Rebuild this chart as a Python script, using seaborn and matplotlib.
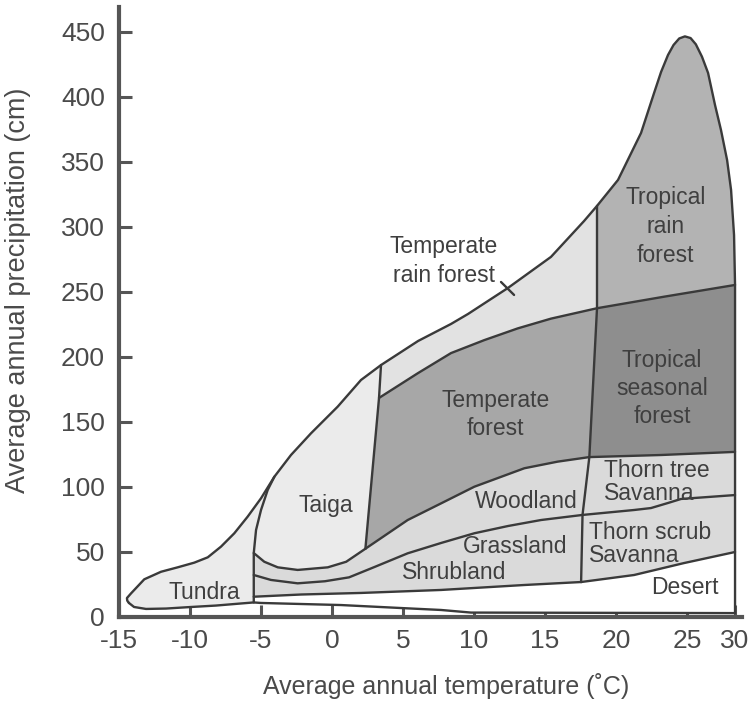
import matplotlib
matplotlib.use("Agg")
import matplotlib.pyplot as plt
from matplotlib import font_manager
import seaborn as sns

# Biome boundaries as (mean annual temperature in degC, mean annual precipitation in cm)
env_tundra = [(-14.30, 10.8), (-14.42, 12.6), (-14.44, 14.6), (-14.15, 18.2), (-13.22, 29.0),
              (-12.04, 34.8), (-10.87, 38.2), (-9.70, 41.8), (-8.75, 45.9), (-7.82, 54.1),
              (-6.88, 64.4), (-5.94, 77.2), (-5.00, 91.3), (-4.06, 107.9)]
env_taiga = [(-4.06, 107.9), (-2.89, 124.6), (-1.48, 141.3), (0.40, 161.8), (2.04, 182.3),
             (3.45, 193.8)]
env_temperate = [(3.45, 193.8), (6.06, 212.3), (8.38, 225.4), (9.58, 233.1), (12.39, 253.1),
                 (15.42, 277.0), (17.75, 304.6), (18.66, 316.2)]
env_tropical = [(18.66, 316.2), (20.14, 336.2), (21.76, 372.3), (22.68, 403.1), (23.17, 419.2),
                (23.66, 432.3), (24.05, 440.0), (24.45, 445.0), (24.85, 446.6), (25.25, 445.3),
                (25.62, 440.5), (26.05, 431.0), (26.48, 418.5), (26.97, 393.8), (27.39, 374.6),
                (27.82, 351.5), (28.10, 328.5), (28.31, 293.8), (28.38, 255.4)]
dry_edge = [(28.38, 255.4), (28.38, 3.0)]
desert_floor = [(-5.51, 11.2), (-5.00, 10.8), (-2.18, 10.0), (0.63, 9.2), (4.86, 6.9),
                (7.68, 5.4), (9.79, 3.4), (28.38, 3.0)]
tundra_floor = [(-14.30, 10.8), (-13.94, 7.7), (-13.10, 6.2), (-11.69, 6.5), (-9.93, 7.7),
                (-8.17, 8.8), (-6.41, 10.4), (-5.51, 11.2)]

taiga_divide = [(-4.06, 107.9), (-4.53, 97.7), (-5.00, 82.3), (-5.35, 66.9), (-5.51, 49.2),
                (-5.51, 11.2)]
temperate_divide = [(3.45, 193.8), (3.31, 168.5), (2.35, 52.5)]
tropical_divide = [(18.66, 316.2), (18.66, 237.5), (18.12, 123.0), (17.64, 78.5), (17.54, 26.9)]

taiga_floor = [(-5.51, 49.2), (-4.77, 42.5), (-3.82, 38.2), (-2.42, 36.2), (-0.30, 38.2),
               (1.00, 42.5), (2.35, 52.5)]
forest_floor = [(2.35, 52.5), (5.33, 74.6), (7.68, 87.4), (10.02, 100.2), (13.54, 114.4),
                (15.89, 119.5), (18.12, 123.0)]
seasonal_floor = [(18.12, 123.0), (23.17, 124.6), (28.38, 127.0)]
woodland_floor = [(-5.51, 32.3), (-4.30, 28.5), (-2.42, 25.9), (-0.50, 27.5), (1.20, 30.5),
                  (3.00, 38.5), (5.33, 49.0), (7.70, 57.0), (10.02, 64.4), (12.40, 70.0),
                  (14.72, 74.6), (17.64, 78.5)]
savanna_split = [(17.64, 78.5), (21.27, 82.3), (22.46, 83.8), (23.66, 87.7), (24.58, 90.8),
                 (28.38, 93.8)]
shrub_floor = [(-5.51, 15.6), (-2.18, 17.3), (2.04, 18.5), (7.68, 20.8), (13.52, 24.6),
               (17.54, 26.9)]
scrub_floor = [(17.54, 26.9), (21.27, 32.3), (24.79, 41.5), (28.38, 50.0)]
rainforest_floor = [(3.31, 168.5), (6.04, 187.5), (8.38, 203.0), (10.73, 213.0), (13.08, 222.0),
                    (15.42, 229.5), (18.66, 237.5)]
tropical_split = [(18.66, 237.5), (23.40, 246.4), (28.38, 255.4)]
rain_forest_mark = [(11.90, 257.7), (12.82, 247.7)]

# Region labels: one entry per text line (text, temperature, precipitation baseline, alignment)
label_lines = [
    ("Tundra", -9.01, 13.6, "center"),
    ("Taiga", -0.46, 81.0, "center"),
    ("Temperate", 7.89, 279.8, "center"),
    ("rain forest", 7.89, 258.0, "center"),
    ("Temperate", 11.52, 161.3, "center"),
    ("forest", 11.52, 140.0, "center"),
    ("Tropical", 23.47, 317.7, "center"),
    ("rain", 23.47, 295.1, "center"),
    ("forest", 23.47, 273.3, "center"),
    ("Tropical", 23.23, 192.0, "center"),
    ("seasonal", 23.23, 170.8, "center"),
    ("forest", 23.23, 149.0, "center"),
    ("Woodland", 13.68, 83.6, "center"),
    ("Grassland", 12.86, 49.0, "center"),
    ("Shrubland", 8.59, 29.0, "center"),
    ("Thorn tree", 19.15, 108.0, "left"),
    ("Savanna", 19.15, 90.0, "left"),
    ("Thorn scrub", 18.12, 59.7, "left"),
    ("Savanna", 18.12, 42.5, "left"),
    ("Desert", 24.88, 17.7, "center"),
]

x_ticks = [-15, -10, -5, 0, 5, 10, 15, 20, 25, 28.38]
x_tick_labels = ["-15", "-10", "-5", "0", "5", "10", "15", "20", "25", "30"]
y_ticks = [0, 50, 100, 150, 200, 250, 300, 350, 400, 450]
y_tick_labels = ["0", "50", "100", "150", "200", "250", "300", "350", "400", "450"]

# ---------------------------------------------------------------------------
sns.set_theme(style="ticks")
installed = {f.name for f in font_manager.fontManager.ttflist}
narrow = "Liberation Sans Narrow" if "Liberation Sans Narrow" in installed else "Liberation Sans"
plt.rcParams["font.family"] = ["Liberation Sans", "DejaVu Sans"]

INK = "#3a3a3a"
AXIS = "#555555"
TEXT = "#3f3f3f"

fig = plt.figure(figsize=(7.54, 7.2), dpi=100)
ax = fig.add_axes([119 / 754, 103 / 720, 623 / 754, 610 / 720])
ax.set_xlim(-15, 28.87)
ax.set_ylim(0, 469.2)


def xs(seq):
    return [p[0] for p in seq]


def ys(seq):
    return [p[1] for p in seq]


def fill(seq, color):
    ax.fill(xs(seq), ys(seq), color=color, linewidth=0, zorder=1)


outline = (env_tundra + env_taiga + env_temperate + env_tropical + dry_edge
           + desert_floor[::-1] + tundra_floor[::-1])
fill(outline, "#ebebeb")
fill(shrub_floor + scrub_floor + [dry_edge[-1]] + desert_floor[::-1], "white")
fill(taiga_floor + forest_floor + seasonal_floor + scrub_floor[::-1] + shrub_floor[::-1], "#dadada")
fill(env_temperate + rainforest_floor[::-1], "#e2e2e2")
fill(rainforest_floor + forest_floor[::-1], "#a7a7a7")
fill(env_tropical + tropical_split[::-1], "#b3b3b3")
fill(tropical_split + seasonal_floor[::-1], "#8e8e8e")

boundaries = [outline + outline[:1], taiga_divide, temperate_divide, tropical_divide,
              taiga_floor, forest_floor, seasonal_floor, woodland_floor, savanna_split,
              shrub_floor, scrub_floor, rainforest_floor, tropical_split, rain_forest_mark]
for seq in boundaries:
    sns.lineplot(x=xs(seq), y=ys(seq), sort=False, estimator=None, color=INK,
                 linewidth=1.7, ax=ax, zorder=3)

for text, t, p, ha in label_lines:
    ax.text(t, p, text, ha=ha, va="baseline", fontsize=16.5, color=TEXT,
            family=["Liberation Sans", "DejaVu Sans"], zorder=4)

# Axes frame: thick left and bottom spines with inward ticks
for side in ("top", "right"):
    ax.spines[side].set_visible(False)
for side in ("left", "bottom"):
    ax.spines[side].set_linewidth(3.0)
    ax.spines[side].set_color(AXIS)
    ax.spines[side].set_zorder(5)

ax.set_xticks(x_ticks)
ax.set_xticklabels(x_tick_labels)
ax.set_yticks(y_ticks)
ax.set_yticklabels(y_tick_labels)
ax.tick_params(direction="in", length=9, width=2.2, color=AXIS, labelcolor="#4a4a4a",
               labelsize=19)
ax.tick_params(axis="x", pad=9)
ax.tick_params(axis="y", pad=10)
for lab in ax.get_xticklabels() + ax.get_yticklabels():
    lab.set_family([narrow, "DejaVu Sans"])

ax.set_xlabel("Average annual temperature (\u02daC)", fontsize=18, color="#4a4a4a",
              family=[narrow, "DejaVu Sans"])
ax.xaxis.set_label_coords((446 - 119) / 623, (617 - 686) / 610)
ax.xaxis.label.set_va("center")
ax.set_ylabel("Average annual precipitation (cm)", fontsize=19.5, color="#4a4a4a",
              family=[narrow, "DejaVu Sans"])
ax.yaxis.set_label_coords((18 - 119) / 623, (617 - 290) / 610)
ax.yaxis.label.set_va("center")

ax.grid(False)
ax.set_facecolor("white")
fig.patch.set_facecolor("white")
fig.savefig("out.png", dpi=100)
